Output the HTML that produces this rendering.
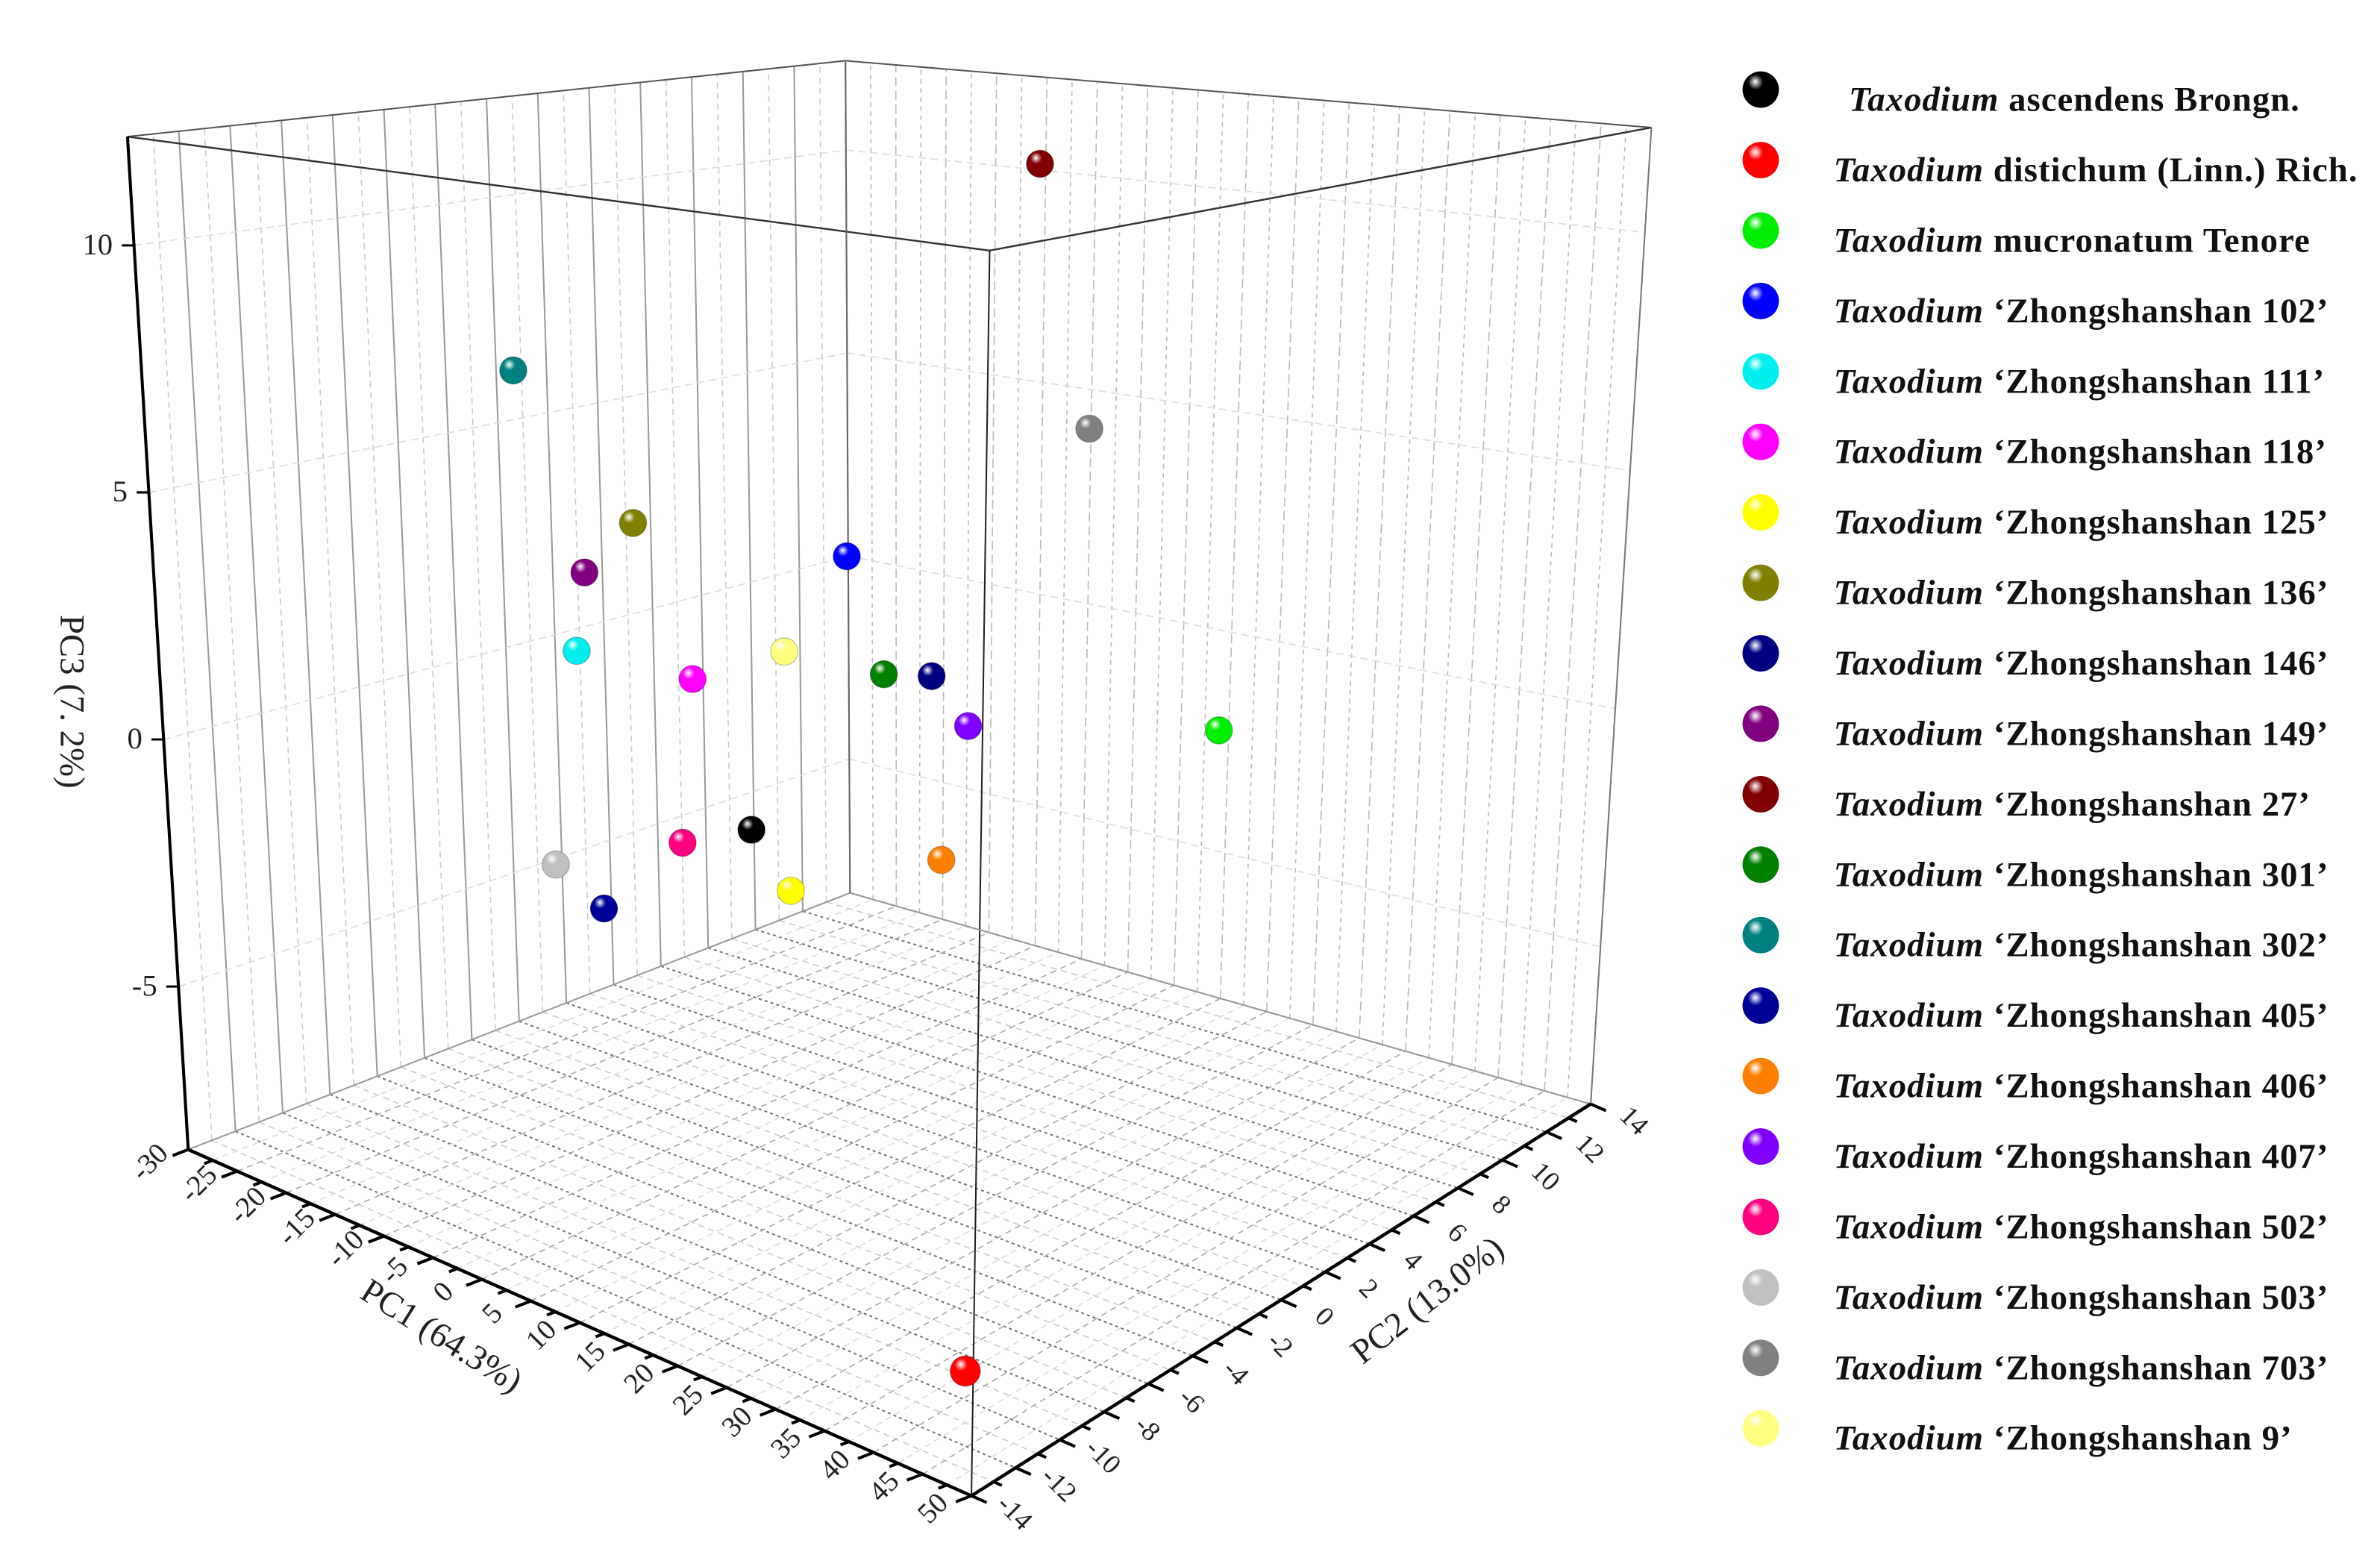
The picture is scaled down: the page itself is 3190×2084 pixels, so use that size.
<!DOCTYPE html>
<html><head><meta charset="utf-8"><style>
html,body{margin:0;padding:0;background:#fff;}
svg{display:block;}
text{font-family:"Liberation Serif",serif;}
</style></head><body>
<svg id="chart" xmlns="http://www.w3.org/2000/svg" width="3190" height="2084" viewBox="0 0 1568 1024" preserveAspectRatio="none">
<defs id="defs"></defs>
<g id="grid"></g>
<g id="frame"></g>
<g id="axes"></g>
<g id="points"></g>
<g id="legend"></g>
</svg>
<script>
const names = ["ascendens Brongn.","distichum (Linn.) Rich.","mucronatum Tenore","‘Zhongshanshan 102’","‘Zhongshanshan 111’","‘Zhongshanshan 118’","‘Zhongshanshan 125’","‘Zhongshanshan 136’","‘Zhongshanshan 146’","‘Zhongshanshan 149’","‘Zhongshanshan 27’","‘Zhongshanshan 301’","‘Zhongshanshan 302’","‘Zhongshanshan 405’","‘Zhongshanshan 406’","‘Zhongshanshan 407’","‘Zhongshanshan 502’","‘Zhongshanshan 503’","‘Zhongshanshan 703’","‘Zhongshanshan 9’"];
const colors = ["#000000","#ff0000","#00ee00","#0000ff","#00eeee","#ff00ff","#ffff00","#808000","#000080","#800080","#800000","#008000","#008080","#000099","#ff8000","#8000ff","#ff0080","#c0c0c0","#808080","#ffff80"];
const pc1 = [-5.3,49.2,41.8,4.5,-22.8,-11.1,-1.3,-16.8,13.0,-21.8,23.1,8.2,-28.3,-20.7,14.1,16.7,-12.4,-25.6,28.3,-1.8];
const pc2 = [0,-14,0,0,0,0,0,0,0,0,0,0,0,0,0,0,0,0,0,0];
const pc3 = [-2.5,-6.3,1.86,3.65,0.33,0.35,-3.53,3.4,1.61,2.09,12.1,1.42,6.23,-5.15,-2.01,0.79,-3.2,-4.52,7.09,1.4];
const pc1Ticks = [-30,-25,-20,-15,-10,-5,0,5,10,15,20,25,30,35,40,45,50];
const pc2Ticks = [-14,-12,-10,-8,-6,-4,-2,0,2,4,6,8,10,12,14];
const pc3Ticks = [-5,0,5,10];
const X0=-30,X1=50,Y0=-14,Y1=14,Z0=-8.3,Z1=12.2;
const Lb=[124,757],Fb=[640,985],Rb=[1048,727],Bb=[560,588];
const Lt=[84,90],Ft=[652,165],Rt=[1088,84],Bt=[557,40];
const NS="http://www.w3.org/2000/svg";
function mix(a,b,t){return [a[0]+(b[0]-a[0])*t,a[1]+(b[1]-a[1])*t];}
function bil(L,F,R,B,u,v){const p=mix(L,B,v),q=mix(F,R,v);return mix(p,q,u);}
function proj(x,y,z){const u=(x-X0)/(X1-X0),v=(y-Y0)/(Y1-Y0),w=(z-Z0)/(Z1-Z0);
 return mix(bil(Lb,Fb,Rb,Bb,u,v),bil(Lt,Ft,Rt,Bt,u,v),w);}
function el(tag,attrs,parent){const e=document.createElementNS(NS,tag);for(const k in attrs)e.setAttribute(k,attrs[k]);parent.appendChild(e);return e;}
function line(p,q,st,w,dash,parent){return el('line',{x1:p[0],y1:p[1],x2:q[0],y2:q[1],stroke:st,'stroke-width':w,'stroke-dasharray':dash||'none'},parent);}
const grid=document.getElementById('grid'),frame=document.getElementById('frame'),axes=document.getElementById('axes'),pts=document.getElementById('points'),leg=document.getElementById('legend'),defs=document.getElementById('defs');
for(let y=Y0;y<=Y1;y+=1){const l=line(proj(X0,y,Z0),proj(X0,y,Z1),y%2===0?'#999':'#ccc',y%2===0?1:0.8,y%2===0?'':'4 3',grid);

}
for(let x=X0;x<=X1;x+=2.5){const l=line(proj(x,Y1,Z0),proj(x,Y1,Z1),'#bbb',0.8,x%5===0?'6 3':'3 3',grid);

}
for(const z of pc3Ticks){const a=line(proj(X0,Y0,z),proj(X0,Y1,z),'#ddd',0.8,'5 3',grid);


const b=line(proj(X0,Y1,z),proj(X1,Y1,z),'#ddd',0.8,'5 3',grid);

}
for(let y=Y0;y<=Y1;y+=1){const l=line(proj(X0,y,Z0),proj(X1,y,Z0),y%2===0?'#777':'#ccc',y%2===0?1:0.8,y%2===0?'2 2':'4 3',grid);

}
for(let x=X0;x<=X1;x+=2.5){const l=line(proj(x,Y0,Z0),proj(x,Y1,Z0),x%5===0?'#aaa':'#ddd',0.8,'4 3',grid);

}
[[Lt,Bt,'#555',1],[Bt,Rt,'#555',1],[Lt,Ft,'#333',1.2],[Ft,Rt,'#333',1.2],[Bt,Bb,'#666',1],[Rt,Rb,'#777',1],[Ft,Fb,'#222',1],[Bb,Lb,'#999',1],[Bb,Rb,'#999',1]].forEach(s=>{const l=line(s[0],s[1],s[2],s[3],'',frame);

});
function norm(a,b,len){const dx=b[0]-a[0],dy=b[1]-a[1],d=Math.hypot(dx,dy);return [dx/d*len,dy/d*len];}
const pa=line(Lb,Fb,'#000',2.2,'',axes);


const pb=line(Fb,Rb,'#000',2.2,'',axes);


const pz=line(Lt,Lb,'#000',2,'',axes);


const d1=norm(Bb,Lb,1),d2=norm(Lb,Fb,1);
for(let x=X0;x<=X1;x+=2.5){const p=proj(x,Y0,Z0),m=x%5===0?11:6;
 const t=line(p,[p[0]+d1[0]*m,p[1]+d1[1]*m],'#000',2,'',axes);
 
 }
pc1Ticks.forEach(x=>{const p=proj(x,Y0,Z0),q=[p[0]+d1[0]*26,p[1]+d1[1]*26];
 const t=el('text',{x:q[0],y:q[1],'font-size':19,'text-anchor':'middle','dominant-baseline':'middle',transform:`rotate(-45 ${q[0]} ${q[1]})`,fill:'#222'},axes);t.textContent=x;
 
 });
for(let y=Y0;y<=Y1;y+=1){const p=proj(X1,y,Z0),m=y%2===0?11:6;
 const t=line(p,[p[0]+d2[0]*m,p[1]+d2[1]*m],'#000',2,'',axes);
 
 }
pc2Ticks.forEach(y=>{const p=proj(X1,y,Z0),q=[p[0]+d2[0]*30,p[1]+d2[1]*30];
 const t=el('text',{x:q[0],y:q[1],'font-size':18,'text-anchor':'middle','dominant-baseline':'middle',transform:`rotate(45 ${q[0]} ${q[1]})`,fill:'#222'},axes);t.textContent=y;
 
 });
pc3Ticks.forEach(z=>{const p=proj(X0,Y0,z);
 const l=line(p,[p[0]-8,p[1]],'#000',1.5,'',axes);
 
 
 const t=el('text',{x:p[0]-14,y:p[1]+6,'font-size':20,'text-anchor':'end',fill:'#222'},axes);t.textContent=z;
 
 });
const t1=el('text',{x:287,y:886,'font-size':23,'text-anchor':'middle',transform:'rotate(32 287 886)',fill:'#222'},axes);t1.textContent='PC1 (64.3%)';


const t2=el('text',{x:945,y:862,'font-size':23,'text-anchor':'middle',transform:'rotate(-38 945 862)',fill:'#222'},axes);t2.textContent='PC2 (13.0%)';


const t3=el('text',{x:40,y:462,'font-size':23,'text-anchor':'middle',transform:'rotate(90 40 462)',fill:'#222'},axes);t3.textContent='PC3 (7. 2%)';


colors.forEach((c,i)=>{const g=el('radialGradient',{id:'g'+i,cx:'0.38',cy:'0.32',r:'0.7',fx:'0.35',fy:'0.28'},defs);
 el('stop',{offset:'0','stop-color':'#fff'},g);el('stop',{offset:'0.3','stop-color':c},g);el('stop',{offset:'1','stop-color':c},g);});
pc1.forEach((x,i)=>{const p=proj(x,pc2[i],pc3[i]);
 const c=el('circle',{cx:p[0],cy:p[1],r:i===1?10:9,fill:`url(#g${i})`,stroke:'rgba(0,0,0,0.25)','stroke-width':0.6},pts);
 
 });
names.forEach((n,i)=>{const y=59+i*46.4;
 const c=el('circle',{cx:1160,cy:y,r:12,fill:`url(#g${i})`},leg);
 
 
 const t=el('text',{x:i===0?1218:1208,y:y+14,'font-size':23,'font-weight':'bold','letter-spacing':0.5,fill:'#111'},leg);
 
 
 const a=el('tspan',{'font-style':'italic'},t);a.textContent='Taxodium';
 const b=el('tspan',{},t);b.textContent=' '+n;});
</script>
</body></html>
